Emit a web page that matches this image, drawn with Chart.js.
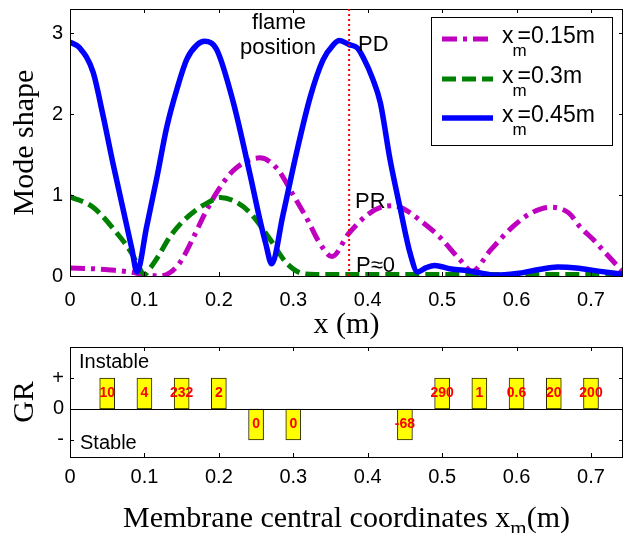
<!DOCTYPE html>
<html>
<head>
<meta charset="utf-8">
<script src="https://cdn.jsdelivr.net/npm/chart.js@4.4.0/dist/chart.umd.min.js"></script>
<style>
  html, body { margin: 0; padding: 0; background: #fff; }
  #wrap { position: relative; width: 624px; height: 533px; overflow: hidden; }
  canvas { position: absolute; left: 0; }
  #modeChart { top: 0; }
  #grChart { top: 335px; }
</style>
</head>
<body>
<div id="wrap">
  <canvas id="modeChart" width="624" height="343"></canvas>
  <canvas id="grChart" width="624" height="198"></canvas>
</div>
<script>
// mode shape, membrane at x_m = 0.15 m
const xm015X = [0, 0.03, 0.06, 0.08, 0.1, 0.12, 0.134, 0.148, 0.166, 0.18, 0.197, 0.219, 0.24, 0.255, 0.278, 0.3, 0.32, 0.334, 0.352, 0.374, 0.4, 0.418, 0.434, 0.452, 0.47, 0.497, 0.524, 0.54, 0.565, 0.595, 0.62, 0.645, 0.67, 0.685, 0.703, 0.716, 0.737, 0.743];
const xm015Y = [0.1, 0.09, 0.07, 0.05, 0.02, 0.0, 0.04, 0.17, 0.48, 0.75, 1.03, 1.3, 1.43, 1.46, 1.33, 1.0, 0.68, 0.43, 0.24, 0.52, 0.76, 0.85, 0.87, 0.81, 0.69, 0.48, 0.2, 0.06, 0.32, 0.61, 0.78, 0.85, 0.78, 0.61, 0.45, 0.32, 0.11, 0.05];

// mode shape, membrane at x_m = 0.3 m
const xm03X = [0, 0.031, 0.063, 0.083, 0.092, 0.1, 0.108, 0.117, 0.134, 0.15, 0.17, 0.184, 0.202, 0.222, 0.242, 0.269, 0.291, 0.313, 0.33, 0.4, 0.5, 0.6, 0.7, 0.743];
const xm03Y = [0.98, 0.85, 0.53, 0.28, 0.12, 0.02, 0.1, 0.22, 0.48, 0.66, 0.82, 0.9, 0.97, 0.92, 0.78, 0.45, 0.16, 0.03, 0.02, 0.02, 0.02, 0.02, 0.02, 0.02];

// mode shape, membrane at x_m = 0.45 m
const xm045X = [0, 0.013, 0.031, 0.044, 0.058, 0.071, 0.083, 0.09, 0.103, 0.117, 0.13, 0.144, 0.157, 0.171, 0.181, 0.197, 0.219, 0.242, 0.255, 0.263, 0.271, 0.286, 0.305, 0.323, 0.34, 0.354, 0.362, 0.375, 0.386, 0.394, 0.407, 0.417, 0.43, 0.444, 0.457, 0.467, 0.478, 0.49, 0.51, 0.53, 0.55, 0.57, 0.6, 0.63, 0.655, 0.68, 0.71, 0.743];
const xm045Y = [2.89, 2.82, 2.52, 2.0, 1.38, 0.84, 0.34, 0.05, 0.61, 1.23, 1.84, 2.32, 2.68, 2.86, 2.9, 2.8, 2.16, 1.25, 0.7, 0.4, 0.15, 0.75, 1.55, 2.22, 2.67, 2.86, 2.91, 2.86, 2.82, 2.7, 2.43, 2.14, 1.44, 0.82, 0.28, 0.05, 0.1, 0.13, 0.09, 0.07, 0.04, 0.01, 0.03, 0.08, 0.11, 0.1, 0.06, 0.02];

const legendLabels = ['=0.15m', '=0.3m', '=0.45m'];
const xTickVals = [0, 0.1, 0.2, 0.3, 0.4, 0.5, 0.6, 0.7];
const modeTickVals = [0, 1, 2, 3];
const flameX = 0.375;

// growth rate per membrane position
const membraneX = [0.05, 0.1, 0.15, 0.2, 0.25, 0.3, 0.45, 0.5, 0.55, 0.6, 0.65, 0.7];
const grSign = [1, 1, 1, 1, -1, -1, -1, 1, 1, 1, 1, 1];
const grLabels = ['10', '4', '232', '2', '0', '0', '-68', '290', '1', '0.6', '20', '200'];
const grTickVals = [-1, 0, 1];
const grTickText = ['-', '0', '+'];

const sans = '"Liberation Sans", Arial, sans-serif';
const serif = '"Liberation Serif", "Times New Roman", serif';

const styles = [
  { color: '#c000c0', dash: [15, 6, 4, 6], width: 5 },
  { color: '#008000', dash: [14, 6], width: 5 },
  { color: '#0000ff', dash: [], width: 5.5 }
];

function toPoints(xs, ys) {
  return xs.map((x, i) => ({ x: x, y: ys[i] }));
}

// no extra room for half tick labels, keep plot box where it is
function noPad(s) {
  s.paddingTop = 0;
  s.paddingBottom = 0;
  s.paddingLeft = 0;
  s.paddingRight = 0;
}

// box + inward ticks, matlab style
function drawFrame(chart, xTicks, yTicks) {
  const ctx = chart.ctx;
  const a = chart.chartArea;
  ctx.save();
  ctx.strokeStyle = '#000';
  ctx.lineWidth = 1;
  ctx.setLineDash([]);
  ctx.strokeRect(Math.round(a.left) + 0.5, Math.round(a.top) + 0.5, Math.round(a.right - a.left) - 1, Math.round(a.bottom - a.top));
  ctx.beginPath();
  xTicks.forEach(v => {
    const px = Math.round(chart.scales.x.getPixelForValue(v)) + 0.5;
    ctx.moveTo(px, a.bottom); ctx.lineTo(px, a.bottom - 4);
    ctx.moveTo(px, a.top); ctx.lineTo(px, a.top + 4);
  });
  yTicks.forEach(v => {
    const py = Math.round(chart.scales.y.getPixelForValue(v)) + 0.5;
    ctx.moveTo(a.left, py); ctx.lineTo(a.left + 4, py);
    ctx.moveTo(a.right, py); ctx.lineTo(a.right - 4, py);
  });
  ctx.stroke();
  ctx.restore();
}

const modeDecor = {
  id: 'modeDecor',
  afterDatasetsDraw(chart) {
    const ctx = chart.ctx;
    const a = chart.chartArea;
    drawFrame(chart, xTickVals, modeTickVals);

    // flame position marker
    const fx = chart.scales.x.getPixelForValue(flameX);
    ctx.save();
    ctx.strokeStyle = '#ff0000';
    ctx.lineWidth = 2;
    ctx.setLineDash([2, 3]);
    ctx.beginPath();
    ctx.moveTo(fx, a.top);
    ctx.lineTo(fx, a.bottom);
    ctx.stroke();
    ctx.setLineDash([]);

    ctx.fillStyle = '#000';
    ctx.font = '22px ' + sans;
    ctx.textBaseline = 'middle';
    ctx.textAlign = 'center';
    ctx.fillText('flame', 279, 23);
    ctx.fillText('position', 278, 48);
    ctx.textAlign = 'left';
    ctx.fillText('PD', 358, 45);
    ctx.fillText('PR', 355, 202);
    ctx.fillText('P\u22480', 356, 266);

    // legend box
    ctx.fillStyle = '#fff';
    ctx.fillRect(431, 17, 181, 128);
    ctx.strokeStyle = '#000';
    ctx.lineWidth = 1;
    ctx.strokeRect(431.5, 17.5, 181, 128);
    const rows = [39, 79, 118];
    styles.forEach((st, i) => {
      ctx.beginPath();
      ctx.setLineDash(st.dash);
      ctx.lineWidth = st.width;
      ctx.strokeStyle = st.color;
      ctx.moveTo(442, rows[i]);
      ctx.lineTo(493, rows[i]);
      ctx.stroke();
      ctx.setLineDash([]);
      ctx.fillStyle = '#000';
      ctx.font = '23px ' + sans;
      ctx.fillText('x', 502, rows[i] - 2);
      const wx = ctx.measureText('x').width;
      ctx.font = '17px ' + sans;
      ctx.fillText('m', 502 + wx - 1, rows[i] + 12);
      ctx.font = '23px ' + sans;
      ctx.fillText(legendLabels[i], 502 + wx + 4, rows[i] - 2);
    });
    ctx.restore();
  }
};

new Chart(document.getElementById('modeChart'), {
  type: 'line',
  data: {
    datasets: [
      { label: 'x_m=0.15m', data: toPoints(xm015X, xm015Y), borderColor: styles[0].color, borderWidth: styles[0].width, borderDash: styles[0].dash, pointRadius: 0, cubicInterpolationMode: 'monotone', fill: false, order: 2 },
      { label: 'x_m=0.3m', data: toPoints(xm03X, xm03Y), borderColor: styles[1].color, borderWidth: styles[1].width, borderDash: styles[1].dash, pointRadius: 0, cubicInterpolationMode: 'monotone', fill: false, order: 1 },
      { label: 'x_m=0.45m', data: toPoints(xm045X, xm045Y), borderColor: styles[2].color, borderWidth: styles[2].width, pointRadius: 0, cubicInterpolationMode: 'monotone', fill: false, order: 0 }
    ]
  },
  options: {
    responsive: false,
    animation: false,
    devicePixelRatio: 1,
    layout: { padding: { top: 9, right: 1, left: 0, bottom: 0 } },
    plugins: { legend: { display: false }, tooltip: { enabled: false } },
    scales: {
      x: {
        type: 'linear', min: 0, max: 0.743,
        grid: { display: false, drawTicks: false },
        border: { display: false },
        afterBuildTicks: s => { s.ticks = xTickVals.map(v => ({ value: v })); },
        afterFit: s => { s.height = 67; noPad(s); },
        ticks: { font: { family: sans, size: 20 }, color: '#000', padding: 12, maxRotation: 0, autoSkip: false,
                 callback: v => v === 0 ? '0' : v.toFixed(1) },
        title: { display: true, text: 'x (m)', font: { family: serif, size: 30 }, color: '#000', padding: 0 }
      },
      y: {
        type: 'linear', min: 0, max: 3.3,
        grid: { display: false, drawTicks: false },
        border: { display: false },
        afterBuildTicks: s => { s.ticks = modeTickVals.map(v => ({ value: v })); },
        afterFit: s => { s.width = 70; noPad(s); },
        ticks: { font: { family: sans, size: 20 }, color: '#000', padding: 7 },
        title: { display: true, text: 'Mode shape', font: { family: serif, size: 30 }, color: '#000', padding: { top: 7, bottom: 0 } }
      }
    }
  },
  plugins: [modeDecor]
});

const grDecor = {
  id: 'grDecor',
  afterDatasetsDraw(chart) {
    const ctx = chart.ctx;
    const a = chart.chartArea;
    drawFrame(chart, xTickVals, grTickVals);

    // zero line
    const y0 = Math.round(chart.scales.y.getPixelForValue(0)) + 0.5;
    ctx.save();
    ctx.strokeStyle = '#000';
    ctx.lineWidth = 1.2;
    ctx.beginPath();
    ctx.moveTo(a.left, y0);
    ctx.lineTo(a.right, y0);
    ctx.stroke();

    // value on each bar
    const meta = chart.getDatasetMeta(0);
    ctx.fillStyle = '#ff0000';
    ctx.font = 'bold 14px ' + sans;
    ctx.textAlign = 'center';
    ctx.textBaseline = 'middle';
    meta.data.forEach((bar, i) => {
      ctx.fillText(grLabels[i], bar.x, (bar.y + bar.base) / 2);
    });

    ctx.fillStyle = '#000';
    ctx.font = '20px ' + sans;
    ctx.textAlign = 'left';
    ctx.fillText('Instable', 79, 27);
    ctx.fillText('Stable', 80, 108);

    // x label with subscript
    ctx.font = '30px ' + serif;
    ctx.textBaseline = 'alphabetic';
    const main = 'Membrane central coordinates x';
    const w1 = ctx.measureText(main).width;
    const w3 = ctx.measureText('(m)').width;
    ctx.font = '21px ' + serif;
    const w2 = ctx.measureText('m').width;
    const x0 = (a.left + a.right) / 2 - (w1 + w2 + w3) / 2;
    ctx.font = '30px ' + serif;
    ctx.fillText(main, x0, 192);
    ctx.font = '21px ' + serif;
    ctx.fillText('m', x0 + w1, 200);
    ctx.font = '30px ' + serif;
    ctx.fillText('(m)', x0 + w1 + w2, 192);
    ctx.restore();
  }
};

new Chart(document.getElementById('grChart'), {
  type: 'bar',
  data: {
    datasets: [{
      label: 'GR',
      data: toPoints(membraneX, grSign),
      backgroundColor: '#ffff00',
      borderColor: '#222200',
      borderWidth: 1,
      borderSkipped: false,
      barThickness: 15
    }]
  },
  options: {
    responsive: false,
    animation: false,
    devicePixelRatio: 1,
    layout: { padding: { top: 12, right: 1, left: 0, bottom: 0 } },
    plugins: { legend: { display: false }, tooltip: { enabled: false } },
    scales: {
      x: {
        type: 'linear', min: 0, max: 0.743, offset: false,
        grid: { display: false, drawTicks: false, offset: false },
        border: { display: false },
        afterBuildTicks: s => { s.ticks = xTickVals.map(v => ({ value: v })); },
        afterFit: s => { s.height = 76; noPad(s); },
        ticks: { font: { family: sans, size: 20 }, color: '#000', padding: 8, maxRotation: 0, autoSkip: false,
                 callback: v => v === 0 ? '0' : v.toFixed(1) }
      },
      y: {
        type: 'linear', min: -1.55, max: 2,
        grid: { display: false, drawTicks: false },
        border: { display: false },
        afterBuildTicks: s => { s.ticks = grTickVals.map(v => ({ value: v })); },
        afterFit: s => { s.width = 70; noPad(s); },
        ticks: { font: { family: sans, size: 20 }, color: '#000', padding: 6,
                 callback: v => grTickText[grTickVals.indexOf(v)] },
        title: { display: true, text: 'GR', font: { family: serif, size: 30 }, color: '#000', padding: { top: 7, bottom: 0 } }
      }
    }
  },
  plugins: [grDecor]
});
</script>
</body>
</html>
